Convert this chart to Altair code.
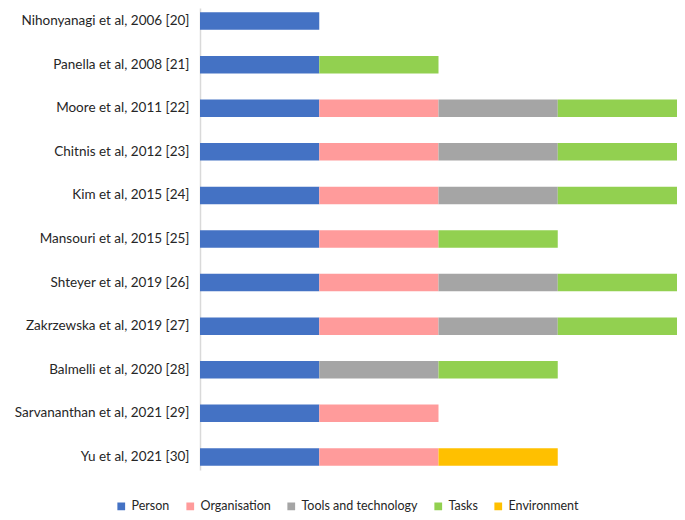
import altair as alt
import pandas as pd

studies = [
    "Nihonyanagi et al, 2006 [20]",
    "Panella et al, 2008 [21]",
    "Moore et al, 2011 [22]",
    "Chitnis et al, 2012 [23]",
    "Kim et al, 2015 [24]",
    "Mansouri et al, 2015 [25]",
    "Shteyer et al, 2019 [26]",
    "Zakrzewska et al, 2019 [27]",
    "Balmelli et al, 2020 [28]",
    "Sarvananthan et al, 2021 [29]",
    "Yu et al, 2021 [30]",
]
components = ["Person", "Organisation", "Tools and technology", "Tasks", "Environment"]
colors = ["#4472C4", "#FF9B9B", "#A5A5A5", "#92D050", "#FFC000"]

person =       [1, 1, 1, 1, 1, 1, 1, 1, 1, 1, 1]
organisation = [0, 0, 1, 1, 1, 1, 1, 1, 0, 1, 1]
tools =        [0, 0, 1, 1, 1, 0, 1, 1, 1, 0, 0]
tasks =        [0, 1, 1, 1, 1, 1, 1, 1, 1, 0, 0]
environment =  [0, 0, 0, 0, 0, 0, 0, 0, 0, 0, 1]

series = [person, organisation, tools, tasks, environment]
rows = []
for ci, (comp, vals) in enumerate(zip(components, series)):
    for s, v in zip(studies, vals):
        if v:
            rows.append({"study": s, "component": comp, "value": v, "order": ci})
df = pd.DataFrame(rows)

chart = alt.Chart(df).mark_bar().encode(
    y=alt.Y("study:N", sort=studies, title=None,
            scale=alt.Scale(paddingInner=0.6, paddingOuter=0.1),
            axis=alt.Axis(ticks=False, domainColor="#d9d9d9", domainWidth=1.5,
                          labelFont="Lato", labelFontSize=13.5, labelColor="#262626",
                          labelPadding=11, labelLimit=300, grid=False)),
    x=alt.X("value:Q", stack="zero", axis=None,
            scale=alt.Scale(domain=[0, 4], nice=False)),
    color=alt.Color("component:N", sort=components,
                    scale=alt.Scale(domain=components, range=colors),
                    legend=alt.Legend(title=None, orient="none", direction="horizontal",
                                      legendX=-85, legendY=492,
                                      symbolType="square", symbolSize=60,
                                      symbolStrokeWidth=0,
                                      labelFont="Lato", labelFontSize=12.5,
                                      labelColor="#262626", labelOffset=4,
                                      columnPadding=14)),
    order=alt.Order("order:Q"),
).properties(
    width=477, height=462,
    autosize=alt.AutoSizeParams(type="none"),
    padding={"left": 192, "top": 0, "right": 0, "bottom": 42},
).configure_view(stroke=None)

chart.save("out.html", embed_options={"renderer": "svg", "actions": False})
